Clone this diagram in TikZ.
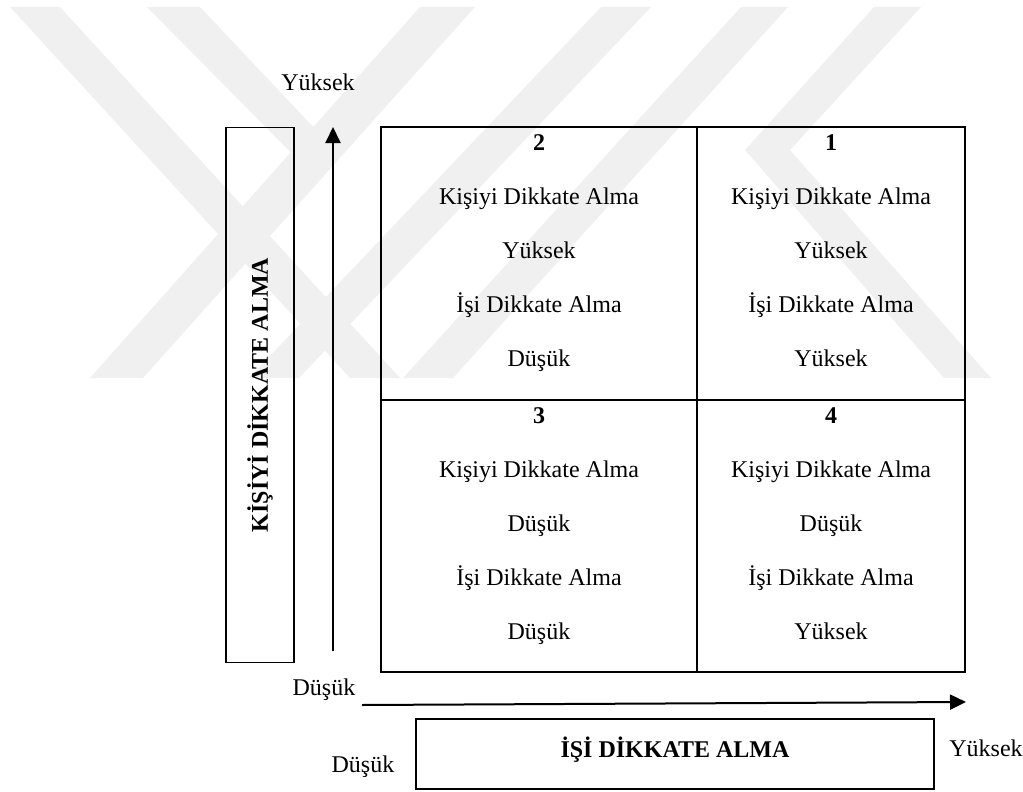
\documentclass[tikz,border=0pt]{standalone}
\usepackage{fontspec}
\setmainfont{Liberation Serif}
\usetikzlibrary{arrows.meta}
\newcommand{\quadtext}[6]{%
  \path (#1.north) ++(0,24) node[num] (#1-n) {#2}
    ++(0,54) node[lbl] (#1-a) {#3}
    ++(0,54) node[lbl] (#1-b) {#4}
    ++(0,54) node[lbl] (#1-c) {#5}
    ++(0,54) node[lbl] (#1-d) {#6};}
\begin{document}
\begin{tikzpicture}[x=1pt,y=-1pt,
  wm/.style={fill=black!6, draw=none},
  cell/.style={draw, line width=2pt, inner sep=0pt},
  lbl/.style={font=\fontsize{24}{28}\selectfont, inner sep=0pt, anchor=base},
  num/.style={font=\fontsize{24}{28}\selectfont\bfseries, inner sep=0pt, anchor=base},
  axis/.style={line width=2pt, -{Triangle[length=16pt,width=15pt]}},
  framebox/.style={draw, line width=1.4pt, inner sep=0pt}
]
\useasboundingbox (0,0) rectangle (1023,792);
% watermark
\fill[wm] (10,7) -- (60,7) -- (400,378) -- (350,378) -- cycle;
\fill[wm] (147,7) -- (200,7) -- (335,150) -- (310,172) -- cycle;
\fill[wm] (420,7) -- (475,7) -- (143,378) -- (90,378) -- cycle;
\fill[wm] (601,7) -- (651,7) -- (299,378) -- (249,378) -- cycle;
\fill[wm] (741,7) -- (788,7) -- (453,378) -- (403,378) -- cycle;
\fill[wm] (874,7) -- (921,7) -- (790,150) -- (745,150) -- cycle;
\fill[wm] (745,150) -- (790,150) -- (991,378) -- (944,378) -- cycle;
% grid
\node[cell, minimum width=316pt, minimum height=273pt] (c2) at (539,263.5) {};
\node[cell, minimum width=268pt, minimum height=273pt] (c1) at (831,263.5) {};
\node[cell, minimum width=316pt, minimum height=272pt] (c3) at (539,536) {};
\node[cell, minimum width=268pt, minimum height=272pt] (c4) at (831,536) {};
\quadtext{c2}{2}{Kişiyi Dikkate Alma}{Yüksek}{İşi Dikkate Alma}{Düşük}
\quadtext{c1}{1}{Kişiyi Dikkate Alma}{Yüksek}{İşi Dikkate Alma}{Yüksek}
\quadtext{c3}{3}{Kişiyi Dikkate Alma}{Düşük}{İşi Dikkate Alma}{Düşük}
\quadtext{c4}{4}{Kişiyi Dikkate Alma}{Düşük}{İşi Dikkate Alma}{Yüksek}
% left box
\node[framebox, minimum width=68pt, minimum height=535pt] (lbox) at (260,395) {};
\node[num, anchor=center, rotate=90] (llab) at (lbox.center) {KİŞİYİ DİKKATE ALMA};
% axes
\coordinate (vlow) at (333,651);
\coordinate (vhigh) at (333,127);
\draw[axis] (vlow) -- (vhigh);
\coordinate (hlow) at (362,705);
\coordinate (hhigh) at (966,702);
\draw[axis] (hlow) -- (hhigh);
% bottom box
\node[framebox, minimum width=518pt, minimum height=70pt] (bbox) at (675,754) {};
\node[num] (blab) at (675,757) {İŞİ DİKKATE ALMA};
% axis labels
\node[lbl] (ytop) at (318,91) {Yüksek};
\node[lbl] (dleft) at (324,695) {Düşük};
\node[lbl] (dbot) at (363,772) {Düşük};
\node[lbl] (yright) at (986,756) {Yüksek};
\end{tikzpicture}
\end{document}
